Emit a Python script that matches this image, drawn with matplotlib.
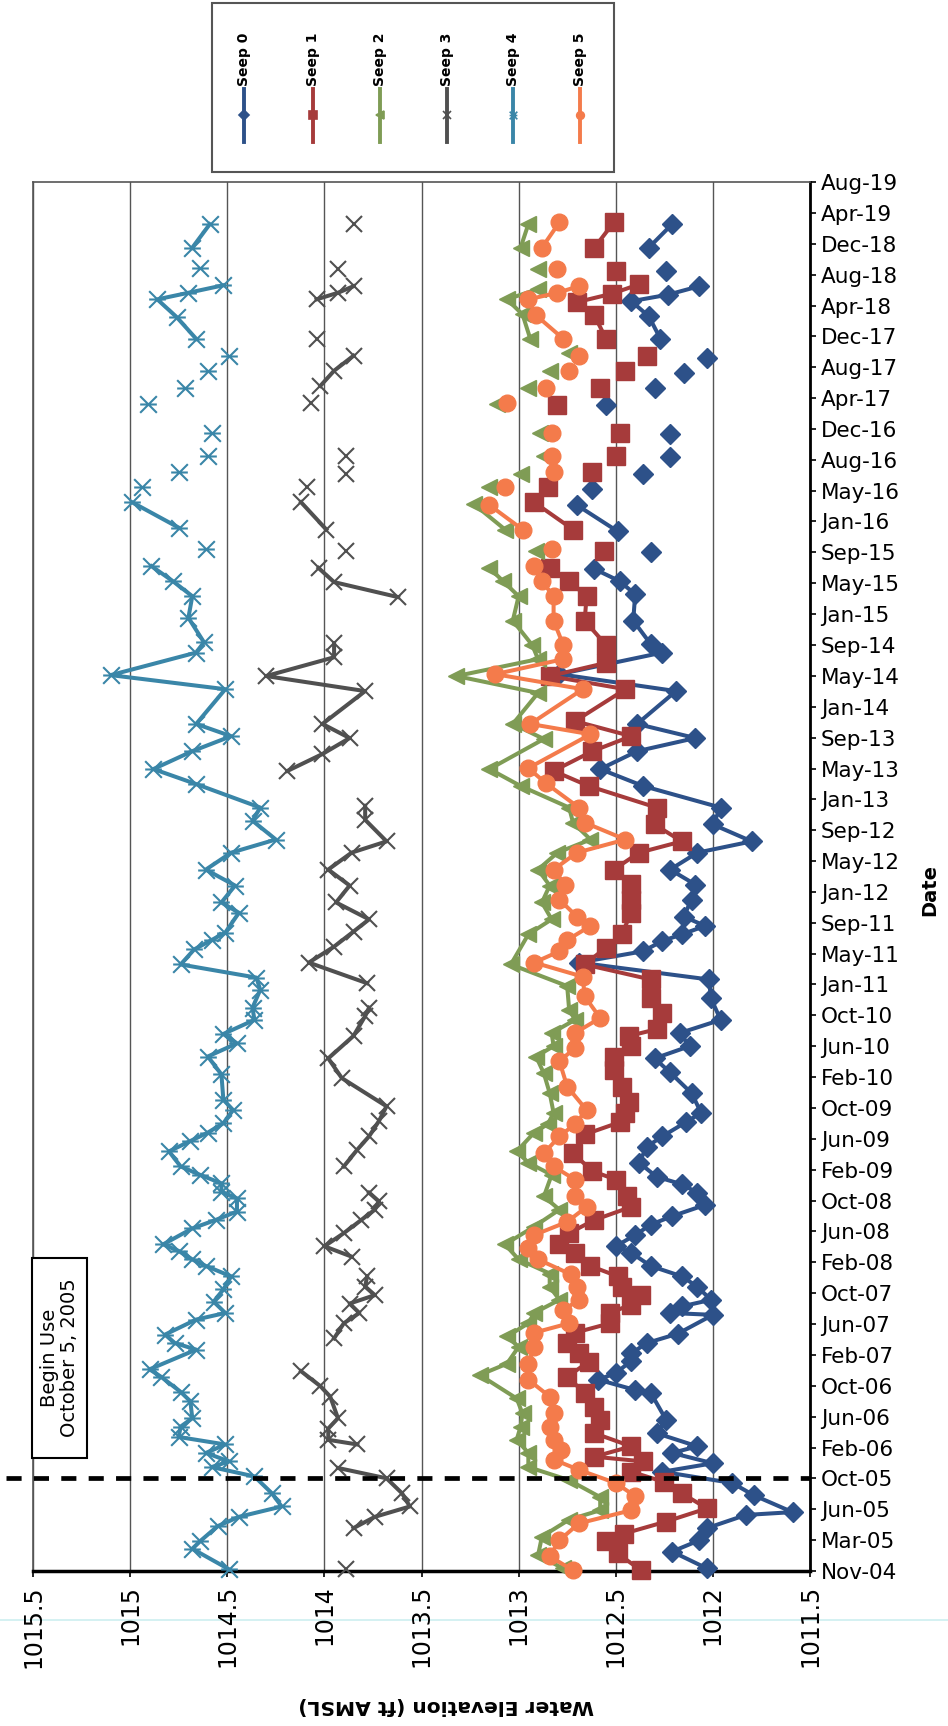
import numpy as np
import pandas as pd
import matplotlib
matplotlib.use("Agg")
import matplotlib.pyplot as plt
from matplotlib.path import Path
from matplotlib.patches import Rectangle
from matplotlib.lines import Line2D

# dates are decimal years, None = break in the line (no sample)
seep0_yr = [2004.86, 2005.04, 2005.16, 2005.29, 2005.43, 2005.46, 2005.64, 2005.77, 2005.89, 2005.98,
            2006.09, 2006.16, 2006.30, 2006.44, 2006.73, 2006.76, 2006.87, 2006.94, 2007.07, 2007.15,
            2007.26, 2007.36, 2007.56, 2007.58, 2007.65, 2007.72, 2007.86, 2007.97, 2008.08, 2008.22,
            2008.29, 2008.41, 2008.52, 2008.61, 2008.73, 2008.86, 2008.95, 2009.03, 2009.18, 2009.35,
            2009.46, 2009.61, 2009.71, 2009.92, 2010.14, 2010.29, 2010.42, 2010.56, 2010.70, 2010.93,
            2011.13, 2011.31, 2011.43, 2011.54, 2011.61, 2011.70, 2011.80, 2011.98, 2012.14, 2012.30,
            2012.48, 2012.60, 2012.78, 2012.96, 2013.19, 2013.37, 2013.56, 2013.70, 2013.85, 2014.20,
            2014.38, 2014.61, 2014.70, 2014.95, 2015.23, 2015.37, 2015.50, None, 2015.68, None,
            2015.90, 2016.18, None, 2016.35, None, 2016.51, None, 2016.69, None, 2016.94, None,
            2017.25, None, 2017.43, None, 2017.59, None, 2017.75, None, 2017.95, 2018.19, 2018.35,
            2018.42, 2018.51, None, 2018.67, None, 2018.92, 2019.17]
seep0_ft = [1012.03, 1012.21, 1012.07, 1012.03, 1011.83, 1011.59, 1011.79, 1011.90, 1012.26, 1012.00,
            1012.21, 1012.08, 1012.29, 1012.24, 1012.32, 1012.40, 1012.59, 1012.50, 1012.42, 1012.42,
            1012.34, 1012.18, 1012.00, 1012.22, 1012.16, 1012.01, 1012.08, 1012.16, 1012.32, 1012.42,
            1012.50, 1012.40, 1012.32, 1012.21, 1012.04, 1012.08, 1012.16, 1012.29, 1012.38, 1012.34,
            1012.26, 1012.14, 1012.06, 1012.11, 1012.22, 1012.30, 1012.12, 1012.17, 1011.96, 1012.01,
            1012.02, 1012.69, 1012.36, 1012.26, 1012.16, 1012.04, 1012.15, 1012.11, 1012.09, 1012.22,
            1012.08, 1011.80, 1012.00, 1011.96, 1012.36, 1012.58, 1012.39, 1012.09, 1012.39, 1012.19,
            1012.79, 1012.26, 1012.32, 1012.41, 1012.40, 1012.48, 1012.61, None, 1012.32, None,
            1012.49, 1012.70, None, 1012.62, None, 1012.36, None, 1012.22, None, 1012.22, None,
            1012.55, None, 1012.30, None, 1012.15, None, 1012.03, None, 1012.27, 1012.33, 1012.42,
            1012.23, 1012.07, None, 1012.24, None, 1012.33, 1012.21]

seep1_yr = [2004.84, 2005.02, 2005.15, 2005.23, 2005.36, 2005.50, 2005.66, 2005.78, 2005.89, 2006.00,
            2006.05, 2006.16, 2006.30, 2006.44, 2006.58, 2006.73, 2006.90, 2007.06, 2007.15, 2007.26,
            2007.37, 2007.47, 2007.58, 2007.67, 2007.77, 2007.86, 2007.97, 2008.08, 2008.22, 2008.31,
            2008.43, 2008.57, 2008.71, 2008.82, 2009.00, 2009.09, 2009.28, 2009.48, 2009.61, 2009.71,
            2009.83, 2009.99, 2010.17, 2010.31, 2010.42, 2010.53, 2010.60, 2010.77, 2010.93, 2011.13,
            2011.29, 2011.47, 2011.61, 2011.84, 2011.98, 2012.15, 2012.30, 2012.48, 2012.60, 2012.78,
            2012.96, 2013.19, 2013.35, 2013.56, 2013.72, 2013.88, 2014.22, 2014.36, 2014.50, 2014.69,
            2014.95, 2015.21, 2015.37, 2015.51, None, 2015.69, None, 2015.92, 2016.21, None,
            2016.37, None, 2016.53, None, 2016.70, None, 2016.95, None, 2017.25, None,
            2017.43, None, 2017.61, None, 2017.77, None, 2017.95, 2018.20, 2018.34, 2018.43,
            2018.53, None, 2018.67, None, 2018.92, 2019.19]
seep1_ft = [1012.37, 1012.49, 1012.55, 1012.46, 1012.24, 1012.03, 1012.16, 1012.25, 1012.42, 1012.36,
            1012.61, 1012.42, 1012.61, 1012.58, 1012.61, 1012.66, 1012.75, 1012.64, 1012.69, 1012.75,
            1012.71, 1012.53, 1012.53, 1012.42, 1012.37, 1012.47, 1012.49, 1012.63, 1012.71, 1012.79,
            1012.74, 1012.61, 1012.42, 1012.44, 1012.50, 1012.62, 1012.72, 1012.66, 1012.48, 1012.45,
            1012.43, 1012.47, 1012.51, 1012.51, 1012.42, 1012.43, 1012.29, 1012.26, 1012.32, 1012.32,
            1012.66, 1012.55, 1012.47, 1012.42, 1012.42, 1012.42, 1012.51, 1012.38, 1012.16, 1012.30,
            1012.29, 1012.64, 1012.82, 1012.62, 1012.42, 1012.71, 1012.45, 1012.84, 1012.55, 1012.55,
            1012.66, 1012.65, 1012.74, 1012.84, None, 1012.56, None, 1012.72, 1012.92, None,
            1012.85, None, 1012.62, None, 1012.50, None, 1012.48, None, 1012.80, None,
            1012.58, None, 1012.45, None, 1012.34, None, 1012.55, 1012.61, 1012.70, 1012.52,
            1012.38, None, 1012.50, None, 1012.61, 1012.51]

seep2_yr = [2004.86, 2005.00, 2005.20, 2005.38, 2005.48, 2005.62, 2005.80, 2005.94, 2006.09, 2006.23,
            2006.37, 2006.51, 2006.67, 2006.92, 2007.04, 2007.22, 2007.33, 2007.47, 2007.58, 2007.72,
            2007.86, 2008.00, 2008.15, 2008.31, 2008.50, 2008.68, 2008.82, 2009.05, 2009.18, 2009.30,
            2009.50, 2009.59, 2009.71, 2009.92, 2010.13, 2010.31, 2010.42, 2010.56, 2010.70, 2010.81,
            2011.06, 2011.29, 2011.61, 2011.77, 2011.95, 2012.13, 2012.30, 2012.48, 2012.62, 2012.80,
            2012.96, 2013.19, 2013.37, 2013.69, 2013.85, 2014.18, 2014.36, 2014.54, 2014.69, 2014.95,
            2015.21, 2015.37, 2015.51, None, 2015.69, None, 2015.92, 2016.19, None, 2016.37,
            None, 2016.51, None, 2016.70, None, 2016.95, None, 2017.26, None, 2017.43,
            None, 2017.61, None, 2017.80, None, 2017.95, 2018.21, 2018.37, 2018.48, None,
            2018.69, None, 2018.92, 2019.17]
seep2_ft = [1012.77, 1012.90, 1012.88, 1012.74, 1012.58, 1012.58, 1012.74, 1012.95, 1012.95, 1013.01,
            1012.99, 1012.98, 1013.01, 1013.20, 1013.06, 1013.00, 1013.06, 1012.95, 1012.92, 1012.79,
            1012.84, 1012.84, 1013.00, 1013.07, 1012.92, 1012.79, 1012.87, 1012.83, 1012.95, 1013.01,
            1012.92, 1012.85, 1012.82, 1012.84, 1012.87, 1012.91, 1012.82, 1012.83, 1012.71, 1012.74,
            1012.75, 1013.04, 1012.95, 1012.83, 1012.88, 1012.84, 1012.90, 1012.80, 1012.63, 1012.72,
            1012.74, 1012.99, 1013.15, 1012.87, 1013.03, 1012.90, 1013.32, 1012.90, 1012.93, 1013.03,
            1013.00, 1013.08, 1013.15, None, 1012.91, None, 1013.07, 1013.23, None, 1013.15,
            None, 1012.99, None, 1012.87, None, 1012.89, None, 1013.11, None, 1012.95,
            None, 1012.84, None, 1012.74, None, 1012.94, 1012.98, 1013.06, 1012.90, None,
            1012.90, None, 1012.99, 1012.95]

seep3_yr = [2004.85, None, 2005.29, 2005.41, 2005.52, 2005.66, 2005.82, 2005.93, None, 2006.18,
            2006.23, 2006.35, 2006.46, 2006.69, 2006.80, 2006.96, None, 2007.31, 2007.47, 2007.58,
            2007.68, 2007.77, 2007.86, 2007.97, None, 2008.18, 2008.29, 2008.43, 2008.57, 2008.68,
            2008.77, 2008.86, None, 2009.14, 2009.32, 2009.46, 2009.62, 2009.78, 2010.08, 2010.29,
            2010.53, 2010.74, 2010.83, None, 2011.09, 2011.31, 2011.48, 2011.64, 2011.77, 2011.95,
            2012.13, 2012.30, 2012.48, 2012.60, 2012.83, 2012.98, None, 2013.35, 2013.53, 2013.70,
            2013.85, 2014.20, 2014.36, 2014.56, 2014.71, None, 2015.20, 2015.36, 2015.51, None,
            2015.69, None, 2015.92, 2016.21, None, 2016.37, None, 2016.51, None, 2016.70,
            None, 2017.27, None, 2017.45, 2017.61, 2017.77, None, 2017.95, None, 2018.37,
            2018.44, 2018.51, None, 2018.69, None, 2019.17]
seep3_ft = [1013.89, None, 1013.85, 1013.74, 1013.56, 1013.60, 1013.68, 1013.93, None, 1013.83,
            1013.98, 1013.98, 1013.93, 1013.97, 1014.02, 1014.12, None, 1013.95, 1013.90, 1013.82,
            1013.87, 1013.74, 1013.79, 1013.78, None, 1013.86, 1014.00, 1013.90, 1013.81, 1013.74,
            1013.72, 1013.77, None, 1013.90, 1013.83, 1013.77, 1013.72, 1013.68, 1013.91, 1013.98,
            1013.85, 1013.79, 1013.77, None, 1013.78, 1014.08, 1013.95, 1013.85, 1013.77, 1013.94,
            1013.87, 1013.98, 1013.86, 1013.68, 1013.79, 1013.79, None, 1014.19, 1014.01, 1013.87,
            1014.01, 1013.79, 1014.30, 1013.95, 1013.95, None, 1013.62, 1013.95, 1014.03, None,
            1013.89, None, 1013.99, 1014.12, None, 1014.09, None, 1013.89, None, 1013.89,
            None, 1014.07, None, 1014.02, 1013.95, 1013.85, None, 1014.04, None, 1014.04,
            1013.93, 1013.85, None, 1013.93, None, 1013.85]

seep4_yr = [2004.85, 2005.07, 2005.15, 2005.31, 2005.41, 2005.52, 2005.66, 2005.84, 2005.94, 2006.00,
            2006.09, 2006.18, 2006.26, 2006.37, 2006.46, 2006.64, 2006.74, 2006.90, 2006.98, 2007.19,
            2007.26, 2007.35, 2007.51, 2007.58, 2007.70, 2007.83, 2007.97, 2008.08, 2008.15, 2008.24,
            2008.31, 2008.48, 2008.57, 2008.66, 2008.80, 2008.87, 2008.96, 2009.05, 2009.14, 2009.30,
            2009.41, 2009.50, 2009.60, 2009.74, 2009.85, 2010.12, 2010.31, 2010.45, 2010.55, 2010.70,
            2010.83, 2011.02, 2011.15, 2011.29, 2011.45, 2011.55, 2011.63, 2011.84, 2011.95, 2012.13,
            2012.30, 2012.48, 2012.62, 2012.82, 2012.96, 2013.21, 2013.37, 2013.56, 2013.72, 2013.85,
            2014.22, 2014.37, 2014.61, 2014.72, 2014.98, 2015.21, 2015.37, 2015.53, None, 2015.71,
            None, 2015.94, 2016.21, None, 2016.37, None, 2016.53, None, 2016.70, None,
            2016.95, None, 2017.26, None, 2017.43, None, 2017.61, None, 2017.77, None,
            2017.95, 2018.18, 2018.37, 2018.44, 2018.52, None, 2018.70, None, 2018.92, 2019.17]
seep4_ft = [1014.49, 1014.68, 1014.64, 1014.55, 1014.44, 1014.22, 1014.27, 1014.36, 1014.58, 1014.49,
            1014.61, 1014.51, 1014.75, 1014.74, 1014.68, 1014.69, 1014.74, 1014.84, 1014.90, 1014.66,
            1014.77, 1014.82, 1014.66, 1014.51, 1014.57, 1014.52, 1014.48, 1014.61, 1014.68, 1014.75,
            1014.83, 1014.68, 1014.56, 1014.45, 1014.45, 1014.53, 1014.53, 1014.64, 1014.74, 1014.80,
            1014.69, 1014.60, 1014.52, 1014.47, 1014.52, 1014.53, 1014.60, 1014.45, 1014.52, 1014.36,
            1014.37, 1014.33, 1014.35, 1014.74, 1014.67, 1014.58, 1014.51, 1014.44, 1014.53, 1014.46,
            1014.61, 1014.48, 1014.25, 1014.37, 1014.33, 1014.66, 1014.88, 1014.68, 1014.48, 1014.66,
            1014.51, 1015.10, 1014.66, 1014.62, 1014.70, 1014.68, 1014.78, 1014.89, None, 1014.61,
            None, 1014.75, 1014.99, None, 1014.94, None, 1014.75, None, 1014.60, None,
            1014.58, None, 1014.91, None, 1014.72, None, 1014.60, None, 1014.49, None,
            1014.66, 1014.76, 1014.86, 1014.70, 1014.52, None, 1014.64, None, 1014.68, 1014.59]

seep5_yr = [2004.84, 2004.99, 2005.16, 2005.34, 2005.48, 2005.63, 2005.77, 2005.91, 2006.02, 2006.12,
            2006.23, 2006.37, 2006.51, 2006.69, 2006.87, 2007.04, 2007.22, 2007.37, 2007.47, 2007.61,
            2007.72, 2007.86, 2007.99, 2008.15, 2008.27, 2008.41, 2008.55, 2008.71, 2008.82, 2009.00,
            2009.14, 2009.28, 2009.46, 2009.59, 2009.74, 2009.99, 2010.26, 2010.40, 2010.56, 2010.72,
            2010.95, 2011.16, 2011.31, 2011.43, 2011.55, 2011.70, 2011.80, 2011.98, 2012.14, 2012.30,
            2012.48, 2012.62, 2012.80, 2012.96, 2013.22, 2013.38, 2013.74, 2013.85, 2014.22, 2014.38,
            2014.54, 2014.69, 2014.95, 2015.21, 2015.37, 2015.53, None, 2015.71, None, 2015.92,
            2016.18, None, 2016.37, None, 2016.53, None, 2016.70, None, 2016.95, None,
            2017.27, None, 2017.43, None, 2017.61, None, 2017.77, None, 2017.95, 2018.20,
            2018.37, 2018.44, 2018.51, None, 2018.69, None, 2018.92, 2019.19]
seep5_ft = [1012.72, 1012.84, 1012.79, 1012.69, 1012.42, 1012.40, 1012.50, 1012.69, 1012.82, 1012.78,
            1012.82, 1012.84, 1012.82, 1012.84, 1012.95, 1012.95, 1012.92, 1012.92, 1012.74, 1012.77,
            1012.69, 1012.70, 1012.73, 1012.90, 1012.95, 1012.92, 1012.75, 1012.65, 1012.71, 1012.71,
            1012.82, 1012.87, 1012.79, 1012.71, 1012.65, 1012.75, 1012.79, 1012.71, 1012.71, 1012.58,
            1012.66, 1012.67, 1012.92, 1012.79, 1012.75, 1012.63, 1012.70, 1012.79, 1012.76, 1012.82,
            1012.70, 1012.45, 1012.66, 1012.69, 1012.86, 1012.95, 1012.63, 1012.94, 1012.67, 1013.12,
            1012.77, 1012.77, 1012.82, 1012.82, 1012.88, 1012.92, None, 1012.83, None, 1012.98,
            1013.15, None, 1013.07, None, 1012.82, None, 1012.83, None, 1012.83, None,
            1013.06, None, 1012.86, None, 1012.74, None, 1012.69, None, 1012.77, 1012.91,
            1012.95, 1012.80, 1012.69, None, 1012.80, None, 1012.88, 1012.79]

seep_names = ["Seep 0", "Seep 1", "Seep 2", "Seep 3", "Seep 4", "Seep 5"]
elev_ticks = [1011.5, 1012, 1012.5, 1013, 1013.5, 1014, 1014.5, 1015, 1015.5]
# the dashed marker is drawn a little after the stated date in the original
begin_line_date = "2005-10-27"


def arr(values):
    return np.array([np.nan if v is None else v for v in values], dtype=float)


def dec_year(d):
    d = pd.Timestamp(d)
    return d.year + (d.dayofyear - 1) / (366 if d.is_leap_year else 365)


# excel date axis: 120 day major unit starting Nov 1 2004
tick_dates = pd.date_range("2004-11-01", periods=46, freq="120D")
tick_pos = [dec_year(d) for d in tick_dates]
tick_lab = [d.strftime("%b-%y") for d in tick_dates]

star = Path([(-1, -1), (1, 1), (-1, 1), (1, -1), (-1, 0), (1, 0)],
            [Path.MOVETO, Path.LINETO, Path.MOVETO, Path.LINETO, Path.MOVETO, Path.LINETO])

styles = [
    ("#2d5189", "D", 10.5),
    ("#a63b3b", "s", 12.5),
    ("#7f9c55", "<", 12),
    ("#505050", "x", 11),
    ("#3a86a8", star, 12),
    ("#f47b4b", "o", 12),
]
data = [(seep0_yr, seep0_ft), (seep1_yr, seep1_ft), (seep2_yr, seep2_ft),
        (seep3_yr, seep3_ft), (seep4_yr, seep4_ft), (seep5_yr, seep5_ft)]

W, H = 948, 1726
fig = plt.figure(figsize=(W / 100, H / 100), dpi=100)
fig.patch.set_facecolor("white")

L, R, T, B = 33, 810, 182, 1571
ax = fig.add_axes([L / W, 1 - B / H, (R - L) / W, (B - T) / H])

for i, ((yr, ft), (c, m, ms)) in enumerate(zip(data, styles)):
    unfilled = m in ("x",) or isinstance(m, Path)
    ax.plot(arr(ft), arr(yr), color=c, lw=2.9, marker=m, ms=ms,
            mfc="none" if unfilled else c, mec=c, mew=1.5 if unfilled else 1,
            zorder=3 + i, clip_on=False)

ax.set_xlim(1015.5, 1011.5)
ax.set_ylim(tick_pos[0], tick_pos[-1])
ax.set_xticks(elev_ticks)
ax.set_xticklabels([f"{v:g}" for v in elev_ticks], rotation=90, fontsize=17)
ax.yaxis.tick_right()
ax.set_yticks(tick_pos)
ax.set_yticklabels(tick_lab, fontsize=15.5)
ax.tick_params(axis="y", direction="out", length=4, width=1.2, pad=4)
ax.tick_params(axis="x", direction="out", length=4, width=1.2, pad=6)
ax.grid(axis="x", color="#555555", lw=1.0)
ax.set_axisbelow(True)
for s in ["top", "left"]:
    ax.spines[s].set_color("#555555")
    ax.spines[s].set_linewidth(1.2)
ax.spines["right"].set_linewidth(2)
ax.spines["bottom"].set_linewidth(2.5)

# begin use marker line
ax.axhline(dec_year(begin_line_date), xmin=-0.035, xmax=1.0, color="black", lw=3.4,
           ls=(0, (3.2, 2.6)), zorder=20, clip_on=False)

fig.add_artist(Rectangle((32 / W, 1 - 1458 / H), 55 / W, 200 / H, transform=fig.transFigure,
                         facecolor="white", edgecolor="black", lw=1.5, zorder=5))
fig.text(59.5 / W, 1 - 1358 / H, "Begin Use\nOctober 5, 2005", rotation=90, ha="center",
         va="center", multialignment="center", fontsize=14, linespacing=1.1, zorder=6)

# faint scan streak through the tick labels
fig.add_artist(Line2D([0, 1], [1 - 1620 / H, 1 - 1620 / H], transform=fig.transFigure,
                      color="#cdeff0", lw=1.2, zorder=0))

fig.text(446 / W, 1 - 1705 / H, "Water Elevation (ft AMSL)", rotation=180, ha="center",
         va="center", fontsize=14.5, fontweight="bold")
fig.text(930 / W, 1 - 890 / H, "Date", rotation=90, ha="center", va="center",
         fontsize=14, fontweight="bold")

# legend box on top
lx0, lx1, ly0, ly1 = 212, 614, 3, 172
lg = fig.add_axes([lx0 / W, 1 - ly1 / H, (lx1 - lx0) / W, (ly1 - ly0) / H])
lg.set_xlim(lx0, lx1)
lg.set_ylim(ly1, ly0)
lg.axis("off")
lg.add_patch(Rectangle((0, 0), 1, 1, transform=lg.transAxes, fill=False,
                       edgecolor="#555555", lw=1.5, clip_on=False))
leg_x = [244, 313, 380, 447, 513, 580]
for x, name, (c, m, ms) in zip(leg_x, seep_names, styles):
    lg.text(x, 86, name, rotation=90, ha="center", va="bottom", fontsize=10, fontweight="bold")
    unfilled = m in ("x",) or isinstance(m, Path)
    lg.add_line(Line2D([x, x], [89, 142], color=c, lw=2.8))
    lg.add_line(Line2D([x], [115], color=c, marker=m, ms=5.5,
                       mfc="none" if unfilled else c, mec=c, mew=1.2))

fig.savefig("out.png", dpi=100, facecolor="white")
